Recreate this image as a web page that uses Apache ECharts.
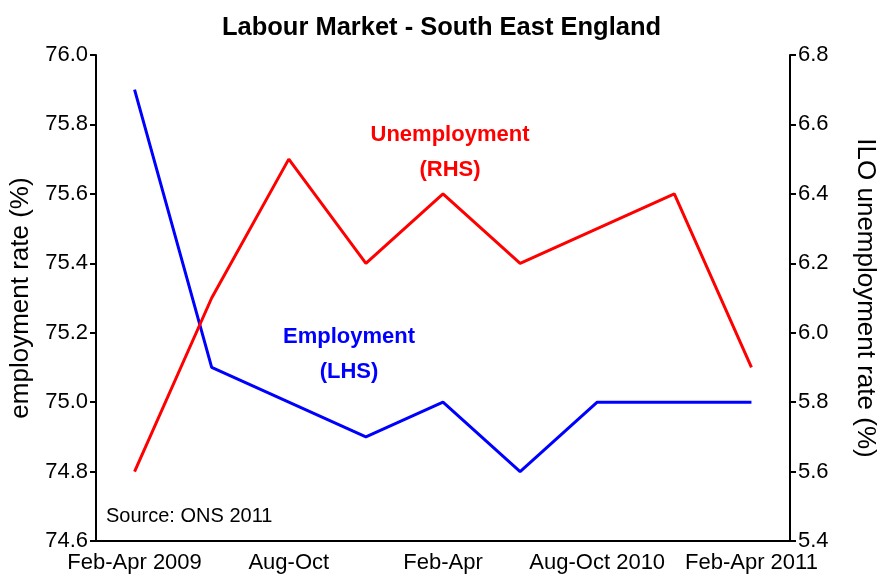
<!DOCTYPE html>
<html>
<head>
<meta charset="utf-8">
<script src="https://cdn.jsdelivr.net/npm/echarts@6/dist/echarts.min.js"></script>
<style>
  html, body { margin: 0; padding: 0; background: #fff; }
  #chart { width: 883px; height: 576px; }
</style>
</head>
<body>
<div id="chart"></div>
<script>
const categories = [
  'Feb-Apr 2009', 'May-Jul', 'Aug-Oct', 'Nov-Jan', 'Feb-Apr',
  'May-Jul', 'Aug-Oct 2010', 'Nov-Jan', 'Feb-Apr 2011'
]
const employment = [75.9, 75.1, 75.0, 74.9, 75.0, 74.8, 75.0, 75.0, 75.0]
const unemployment = [5.6, 6.1, 6.5, 6.2, 6.4, 6.2, 6.3, 6.4, 5.9]

const font = 'Liberation Sans, Arial, sans-serif'
const black = '#000'

// centred single-line annotation
function note(text, x, y, color, weight, size) {
  return {
    type: 'text',
    x, y,
    style: {
      text,
      align: 'center',
      verticalAlign: 'middle',
      fill: color,
      font: weight + ' ' + size + 'px ' + font
    }
  }
}

const chart = echarts.init(document.getElementById('chart'))

chart.setOption({
  backgroundColor: '#fff',
  animation: false,
  title: {
    text: 'Labour Market - South East England',
    left: 'center',
    top: 10,
    textStyle: { fontFamily: font, fontSize: 25.5, fontWeight: 'bold', color: black }
  },
  grid: { left: 96, right: 93, top: 55, bottom: 35, containLabel: false, outerBoundsMode: 'none' },
  xAxis: {
    type: 'category',
    data: categories,
    boundaryGap: true,
    axisLine: { lineStyle: { color: black, width: 2 } },
    axisTick: { show: false },
    axisLabel: {
      interval: 1,
      margin: 11,
      fontFamily: font,
      fontSize: 22,
      color: black
    }
  },
  yAxis: [
    {
      type: 'value',
      min: 74.6,
      max: 76.0,
      interval: 0.2,
      position: 'left',
      name: 'employment rate (%)',
      nameLocation: 'middle',
      nameGap: 62,
      nameTextStyle: { fontFamily: font, fontSize: 26, color: black },
      axisLine: { show: true, lineStyle: { color: black, width: 2 } },
      axisTick: { show: true, length: 6, lineStyle: { color: black, width: 2 } },
      axisLabel: {
        margin: 8,
        fontFamily: font,
        fontSize: 22,
        color: black,
        formatter: v => v.toFixed(1)
      },
      splitLine: { show: false }
    },
    {
      type: 'value',
      min: 5.4,
      max: 6.8,
      interval: 0.2,
      position: 'right',
      name: 'ILO unemployment rate (%)',
      nameLocation: 'middle',
      nameGap: 62,
      nameRotate: -90,
      nameTextStyle: { fontFamily: font, fontSize: 26, color: black },
      axisLine: { show: true, lineStyle: { color: black, width: 2 } },
      axisTick: { show: true, length: 6, lineStyle: { color: black, width: 2 } },
      axisLabel: {
        margin: 8,
        fontFamily: font,
        fontSize: 22,
        color: black,
        formatter: v => v.toFixed(1)
      },
      splitLine: { show: false }
    }
  ],
  series: [
    {
      name: 'Employment (LHS)',
      type: 'line',
      yAxisIndex: 0,
      data: employment,
      symbol: 'none',
      lineStyle: { color: '#0000ff', width: 3 }
    },
    {
      name: 'Unemployment (RHS)',
      type: 'line',
      yAxisIndex: 1,
      data: unemployment,
      symbol: 'none',
      lineStyle: { color: '#ff0000', width: 3 }
    }
  ],
  graphic: [
    note('Unemployment', 450, 135, '#ff0000', 'bold', 22),
    note('(RHS)', 450, 170, '#ff0000', 'bold', 22),
    note('Employment', 349, 337, '#0000ff', 'bold', 22),
    note('(LHS)', 349, 372, '#0000ff', 'bold', 22),
    {
      type: 'text',
      left: 106, top: 506,
      style: { text: 'Source: ONS 2011', fill: black, font: '20px ' + font }
    }
  ]
})
</script>
</body>
</html>
